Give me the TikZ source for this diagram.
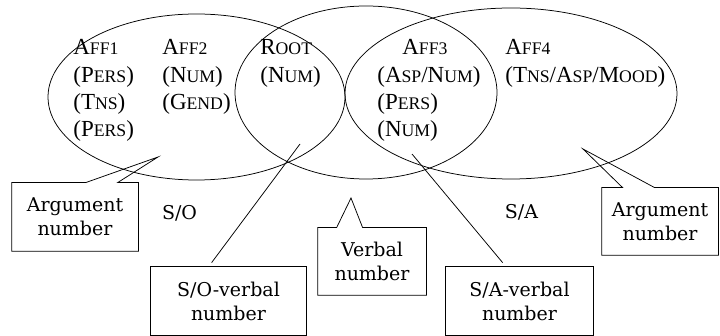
\documentclass[tikz,border=0pt]{standalone}
\usepackage{fontspec}
\setmainfont{Liberation Serif}
\newfontfamily\boxfont{DejaVu Serif}
\usetikzlibrary{calc,shapes.geometric}
\newcommand\smc[1]{{\fontsize{17.7}{20}\selectfont #1}}
\begin{document}
\begin{tikzpicture}[x=1pt,y=-1pt, line width=0.75pt,
  ell/.style={draw, ellipse, inner sep=0pt, outer sep=0pt},
  lab/.style={anchor=base west, inner sep=0pt, font=\fontsize{23}{27}\selectfont},
  cbox/.style={align=center, inner sep=0pt, font=\boxfont\fontsize{19}{24}\selectfont},
  plain/.style={inner sep=0pt, font=\boxfont\fontsize{19}{24}\selectfont},
]
\useasboundingbox (0,0) rectangle (720,336);
% ellipses
\node[ell, minimum width=297pt, minimum height=166pt] (L) at (196.5,97) {};
\node[ell, minimum width=262pt, minimum height=173pt] (M) at (366,92.5) {};
\node[ell, minimum width=332pt, minimum height=171pt] (R) at (511,93.5) {};
% column 1
\node[lab] (c1a) at (73,55) {A\smc{FF1}};
\node[lab] (c1b) at (73,82.5) {(P\smc{ERS})};
\node[lab] (c1c) at (73,110) {(T\smc{NS})};
\node[lab] (c1d) at (73,137) {(P\smc{ERS})};
% column 2
\node[lab] (c2a) at (162,55) {A\smc{FF2}};
\node[lab] (c2b) at (162,82.5) {(N\smc{UM})};
\node[lab] (c2c) at (162,110) {(G\smc{END})};
% column 3
\node[lab] (c3a) at (260,55) {R\smc{OOT}};
\node[lab] (c3b) at (260,82.5) {(N\smc{UM})};
% column 4
\node[lab] (c4a) at (402,55) {A\smc{FF3}};
\node[lab] (c4b) at (377,82.5) {(A\smc{SP}/N\smc{UM})};
\node[lab] (c4c) at (377,110) {(P\smc{ERS})};
\node[lab] (c4d) at (377,137) {(N\smc{UM})};
% column 5
\node[lab] (c5a) at (505,55) {A\smc{FF4}};
\node[lab] (c5b) at (505,82.5) {(T\smc{NS}/A\smc{SP}/M\smc{OOD})};
% labels
\node[plain] (so-lab) at (179.5,213) {S/O};
\node[plain] (sa-lab) at (521.5,212) {S/A};
% boxes
\node[cbox, minimum width=126pt, minimum height=68pt] (argL) at (75,217) {Argument\\number};
\node[cbox, minimum width=155pt, minimum height=68pt] (so) at (228.5,301) {S/O-verbal\\number};
\node[cbox, minimum width=108pt, minimum height=67pt] (vb) at (372,261.5) {Verbal\\number};
\node[cbox, minimum width=147pt, minimum height=68pt] (sa) at (519.5,301) {S/A-verbal\\number};
\node[cbox, minimum width=116pt, minimum height=67pt] (argR) at (660,221.5) {Argument\\number};
% pointer coordinates
\coordinate (tipL) at (158,157);
\coordinate (tipSO) at (300,144);
\coordinate (tipV) at (351,198);
\coordinate (tipSA) at (412,154);
\coordinate (tipR) at (583,149);
% callout outlines
\draw ($(argL.north west)+(74,0)$) -- (argL.north west) -- (argL.south west) -- (argL.south east) -- (argL.north east) -- ($(argL.north west)+(106,0)$) -- (tipL) -- cycle;
\draw ($(vb.north west)+(19,0)$) -- (vb.north west) -- (vb.south west) -- (vb.south east) -- (vb.north east) -- ($(vb.north west)+(45,0)$) -- (tipV) -- cycle;
\draw ($(argR.north west)+(21,0)$) -- (argR.north west) -- (argR.south west) -- (argR.south east) -- (argR.north east) -- ($(argR.north west)+(53,0)$) -- (tipR) -- cycle;
\draw (so.north west) rectangle (so.south east);
\draw (sa.north west) rectangle (sa.south east);
\coordinate (soA) at ($(so.north west)+(61,-4)$);
\coordinate (saA) at ($(sa.north west)+(57,-4)$);
\draw (soA) -- (tipSO);
\draw (saA) -- (tipSA);
\end{tikzpicture}
\end{document}
